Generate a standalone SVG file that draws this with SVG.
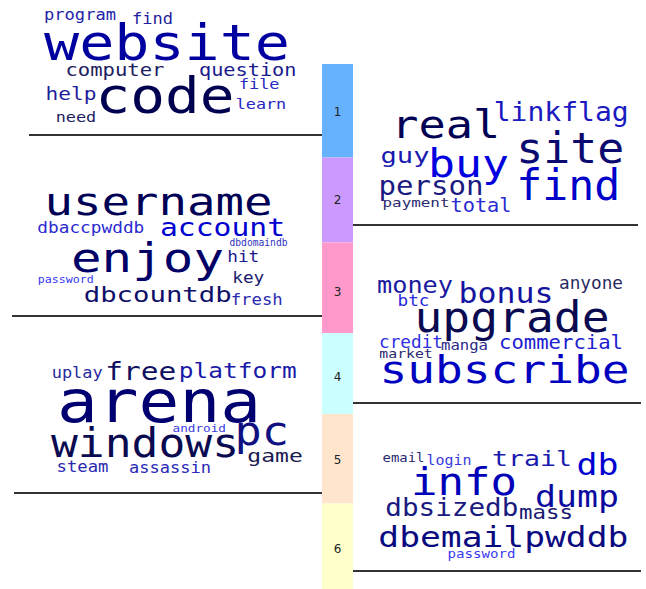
<svg xmlns="http://www.w3.org/2000/svg" width="646" height="589" viewBox="0 0 646 589">
<style>
.w{font-family:"DejaVu Sans Mono","Liberation Mono",monospace;}
.n{font-family:"DejaVu Sans","Liberation Sans",sans-serif;font-size:12px;fill:#222;text-anchor:middle;}
.ln{stroke:#333;stroke-width:2;fill:none;}
</style>
<rect width="646" height="589" fill="#fff"/>
<g id="bar">
<rect x="322" y="64" width="31" height="93.5" fill="#66b2ff"/>
<rect x="322" y="157.5" width="31" height="85" fill="#cc99ff"/>
<rect x="322" y="242.5" width="31" height="90.5" fill="#ff99cc"/>
<rect x="322" y="333" width="31" height="81" fill="#ccffff"/>
<rect x="322" y="414" width="31" height="89.5" fill="#ffe5cc"/>
<rect x="322" y="503.5" width="31" height="85.5" fill="#ffffcc"/>
<text class="n" x="337.5" y="115.5">1</text>
<text class="n" x="337.5" y="204">2</text>
<text class="n" x="337.5" y="296">3</text>
<text class="n" x="337.5" y="381">4</text>
<text class="n" x="337.5" y="464">5</text>
<text class="n" x="337.5" y="553">6</text>
</g>
<g id="connectors">
<line class="ln" x1="29" y1="135" x2="322" y2="135"/>
<line class="ln" x1="12" y1="316" x2="322" y2="316"/>
<line class="ln" x1="14" y1="493" x2="322" y2="493"/>
<line class="ln" x1="353" y1="225" x2="638" y2="225"/>
<line class="ln" x1="353" y1="403" x2="641" y2="403"/>
<line class="ln" x1="353" y1="571" x2="641" y2="571"/>
</g>
<g id="cloud1" class="w">
<text x="44" y="20" font-size="15" fill="#2323a8" textLength="72" lengthAdjust="spacingAndGlyphs">program</text>
<text x="132" y="24.3" font-size="15.5" fill="#1e1e9e" textLength="41" lengthAdjust="spacingAndGlyphs">find</text>
<text x="44" y="60" font-size="50" fill="#0000a0" textLength="246" lengthAdjust="spacingAndGlyphs">website</text>
<text x="65.5" y="76" font-size="18" fill="#202060" textLength="99" lengthAdjust="spacingAndGlyphs">computer</text>
<text x="199" y="76" font-size="18" fill="#1a1a8c" textLength="97.5" lengthAdjust="spacingAndGlyphs">question</text>
<text x="239" y="89.3" font-size="14.5" fill="#2a2ac0" textLength="40.5" lengthAdjust="spacingAndGlyphs">file</text>
<text x="95.5" y="113.3" font-size="50" fill="#000050" textLength="139" lengthAdjust="spacingAndGlyphs">code</text>
<text x="45.5" y="100" font-size="18" fill="#1e1e9a" textLength="51" lengthAdjust="spacingAndGlyphs">help</text>
<text x="235.7" y="109.3" font-size="14.5" fill="#2626c0" textLength="50.5" lengthAdjust="spacingAndGlyphs">learn</text>
<text x="55.7" y="121.7" font-size="14.5" fill="#1c1c60" textLength="40.5" lengthAdjust="spacingAndGlyphs">need</text>
</g>
<g id="cloud2" class="w">
<text x="44.5" y="215" font-size="38" fill="#000055" textLength="228" lengthAdjust="spacingAndGlyphs">username</text>
<text x="37.3" y="233.3" font-size="15" fill="#2a2ad0" textLength="107" lengthAdjust="spacingAndGlyphs">dbaccpwddb</text>
<text x="160" y="236" font-size="24" fill="#0000d0" textLength="125" lengthAdjust="spacingAndGlyphs">account</text>
<text x="229.5" y="246" font-size="10" fill="#3030c0" textLength="58" lengthAdjust="spacingAndGlyphs">dbdomaindb</text>
<text x="71" y="271.7" font-size="41" fill="#000066" textLength="153" lengthAdjust="spacingAndGlyphs">enjoy</text>
<text x="227.3" y="261.7" font-size="16" fill="#1a1a8c" textLength="32" lengthAdjust="spacingAndGlyphs">hit</text>
<text x="232.3" y="283.3" font-size="16" fill="#1a1a70" textLength="32" lengthAdjust="spacingAndGlyphs">key</text>
<text x="37.7" y="283.3" font-size="11" fill="#3838f0" textLength="56" lengthAdjust="spacingAndGlyphs">password</text>
<text x="83.7" y="301.7" font-size="22" fill="#10106a" textLength="148" lengthAdjust="spacingAndGlyphs">dbcountdb</text>
<text x="230.7" y="305" font-size="16" fill="#2a2ab0" textLength="52" lengthAdjust="spacingAndGlyphs">fresh</text>
</g>
<g id="cloud3" class="w">
<text x="51.7" y="378.3" font-size="15" fill="#2a2aa0" textLength="51" lengthAdjust="spacingAndGlyphs">uplay</text>
<text x="105.3" y="380" font-size="24" fill="#101060" textLength="71" lengthAdjust="spacingAndGlyphs">free</text>
<text x="178.7" y="378.3" font-size="22" fill="#1a1aa8" textLength="118" lengthAdjust="spacingAndGlyphs">platform</text>
<text x="57" y="421.7" font-size="58" fill="#000070" textLength="204" lengthAdjust="spacingAndGlyphs">arena</text>
<text x="172.5" y="432.3" font-size="11" fill="#3a3ae0" textLength="53.5" lengthAdjust="spacingAndGlyphs">android</text>
<text x="51" y="456.7" font-size="40" fill="#0a0a50" textLength="188" lengthAdjust="spacingAndGlyphs">windows</text>
<text x="234.5" y="445" font-size="40" fill="#101080" textLength="54.5" lengthAdjust="spacingAndGlyphs">pc</text>
<text x="247.3" y="461.7" font-size="18" fill="#1a1a50" textLength="55.5" lengthAdjust="spacingAndGlyphs">game</text>
<text x="56.5" y="471.7" font-size="15" fill="#2a2ab0" textLength="52" lengthAdjust="spacingAndGlyphs">steam</text>
<text x="129" y="472.7" font-size="15" fill="#2a2ab8" textLength="82" lengthAdjust="spacingAndGlyphs">assassin</text>
</g>
<g id="cloud4" class="w">
<text x="493.7" y="120.7" font-size="26" fill="#1a1ac0" textLength="135" lengthAdjust="spacingAndGlyphs">linkflag</text>
<text x="391.3" y="138.3" font-size="39" fill="#000055" textLength="109" lengthAdjust="spacingAndGlyphs">real</text>
<text x="516.3" y="163.3" font-size="42" fill="#0a0a70" textLength="108" lengthAdjust="spacingAndGlyphs">site</text>
<text x="380.5" y="162.7" font-size="22" fill="#1a1ab0" textLength="49" lengthAdjust="spacingAndGlyphs">guy</text>
<text x="428" y="176.7" font-size="39" fill="#0000e0" textLength="81" lengthAdjust="spacingAndGlyphs">buy</text>
<text x="516.3" y="200" font-size="42" fill="#0000c8" textLength="104" lengthAdjust="spacingAndGlyphs">find</text>
<text x="378.5" y="195" font-size="27" fill="#1a1a80" textLength="105" lengthAdjust="spacingAndGlyphs">person</text>
<text x="382.5" y="206.7" font-size="13" fill="#2a2a70" textLength="67" lengthAdjust="spacingAndGlyphs">payment</text>
<text x="450.5" y="211.7" font-size="20" fill="#2a2ad0" textLength="61" lengthAdjust="spacingAndGlyphs">total</text>
</g>
<g id="cloud5" class="w">
<text x="377" y="293.3" font-size="23" fill="#1a1aa0" textLength="76" lengthAdjust="spacingAndGlyphs">money</text>
<text x="458.5" y="302.7" font-size="28" fill="#1414a0" textLength="95" lengthAdjust="spacingAndGlyphs">bonus</text>
<text x="559" y="289.3" font-size="17" fill="#2a2a60" textLength="64" lengthAdjust="spacingAndGlyphs">anyone</text>
<text x="397.5" y="306" font-size="15" fill="#2a2ae0" textLength="32" lengthAdjust="spacingAndGlyphs">btc</text>
<text x="414.5" y="331.7" font-size="42" fill="#0a0a50" textLength="195" lengthAdjust="spacingAndGlyphs">upgrade</text>
<text x="379" y="348.3" font-size="17" fill="#3030e0" textLength="64" lengthAdjust="spacingAndGlyphs">credit</text>
<text x="441" y="350" font-size="14" fill="#2a2a88" textLength="47" lengthAdjust="spacingAndGlyphs">manga</text>
<text x="499" y="349.3" font-size="19" fill="#2020d0" textLength="124" lengthAdjust="spacingAndGlyphs">commercial</text>
<text x="379.3" y="358.3" font-size="13" fill="#2a2a70" textLength="53.5" lengthAdjust="spacingAndGlyphs">market</text>
<text x="379.5" y="383.3" font-size="37" fill="#0000c0" textLength="250" lengthAdjust="spacingAndGlyphs">subscribe</text>
</g>
<g id="cloud6" class="w">
<text x="382.5" y="461.7" font-size="13" fill="#2a2a70" textLength="42" lengthAdjust="spacingAndGlyphs">email</text>
<text x="426.5" y="465" font-size="14" fill="#3a3ae0" textLength="45" lengthAdjust="spacingAndGlyphs">login</text>
<text x="492" y="466" font-size="21" fill="#1a1ab0" textLength="80" lengthAdjust="spacingAndGlyphs">trail</text>
<text x="576.5" y="475" font-size="31" fill="#0000d0" textLength="42" lengthAdjust="spacingAndGlyphs">db</text>
<text x="411" y="495" font-size="37" fill="#0000b8" textLength="106" lengthAdjust="spacingAndGlyphs">info</text>
<text x="535" y="506.7" font-size="31" fill="#0a0aa0" textLength="84" lengthAdjust="spacingAndGlyphs">dump</text>
<text x="385.3" y="516" font-size="25" fill="#1a1a80" textLength="133" lengthAdjust="spacingAndGlyphs">dbsizedb</text>
<text x="519" y="519.3" font-size="20" fill="#1a1a70" textLength="54" lengthAdjust="spacingAndGlyphs">mass</text>
<text x="378.3" y="546.7" font-size="29" fill="#0a0a80" textLength="250" lengthAdjust="spacingAndGlyphs">dbemailpwddb</text>
<text x="447.5" y="558.3" font-size="13" fill="#3a3af0" textLength="68" lengthAdjust="spacingAndGlyphs">password</text>
</g>
</svg>
